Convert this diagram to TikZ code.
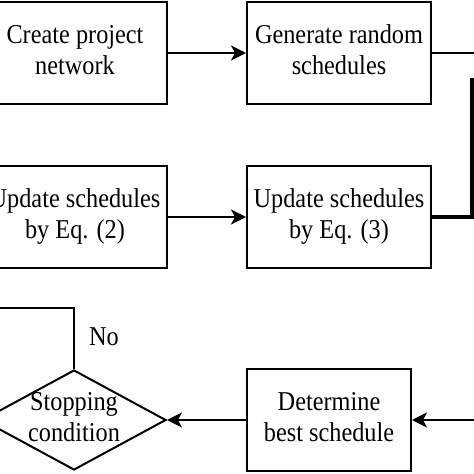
\documentclass[tikz,border=0pt]{standalone}
\usepackage{fontspec}
\usepackage{graphicx}
\setmainfont{Liberation Serif}
\usetikzlibrary{shapes.geometric,arrows.meta}
\newcommand{\vtext}[1]{\scalebox{1}[1.12]{\begin{tabular}{@{}c@{}}#1\end{tabular}}}
\begin{document}
\begin{tikzpicture}[x=1pt,y=-1pt,
  txt/.style={align=center, inner sep=0pt, font=\fontsize{24.3}{27.7}\selectfont},
  box/.style={txt, draw, line width=2pt, minimum height=102pt},
  arr/.style={line width=2pt, -{Stealth[length=15pt,width=15pt,inset=4pt]}},
  ln/.style={line width=2pt}]
\useasboundingbox (0,0) rectangle (474,474);
\clip (0,0) rectangle (474,474);
\fill[white] (0,0) rectangle (474,474);

\node[box, minimum width=184pt] (create) at (75,53) {\vtext{Create project\\network}};
\node[box, minimum width=184pt] (gen) at (339,53) {\vtext{Generate random\\schedules}};
\node[box, minimum width=184pt] (upd2) at (75,217) {\vtext{Update schedules\\by Eq. (2)}};
\node[box, minimum width=184pt] (upd3) at (339,217) {\vtext{Update schedules\\by Eq. (3)}};
\node[box, minimum width=164pt] (best) at (329,420) {\vtext{Determine\\best schedule}};
\node[diamond, draw, line width=2pt, minimum width=184pt, minimum height=100pt, inner sep=0pt] (stop) at (74,420) {};
\node[txt] (stoptxt) at (stop.center) {\vtext{Stopping\\condition}};

\draw[arr] (create) -- (gen);
\draw[arr] (upd2) -- (upd3);

\coordinate (r1) at (476,53);
\draw[ln] (gen.east) -- (r1);
\coordinate (r2top) at (472,78);
\coordinate (r2) at (472,217);
\draw[line width=3.5pt] (r2top) -- (r2) -- (upd3.east);

\coordinate (bin) at (476,420);
\draw[arr] (bin) -- (best.east);
\draw[arr] (best.west) -- (stop.east);

\coordinate (nocorner) at (74,308);
\coordinate (noleft) at (-5,308);
\draw[ln] (stop.north) -- (nocorner) -- (noleft);
\node[txt] (no) at (104,339) {\vtext{No}};
\end{tikzpicture}
\end{document}
